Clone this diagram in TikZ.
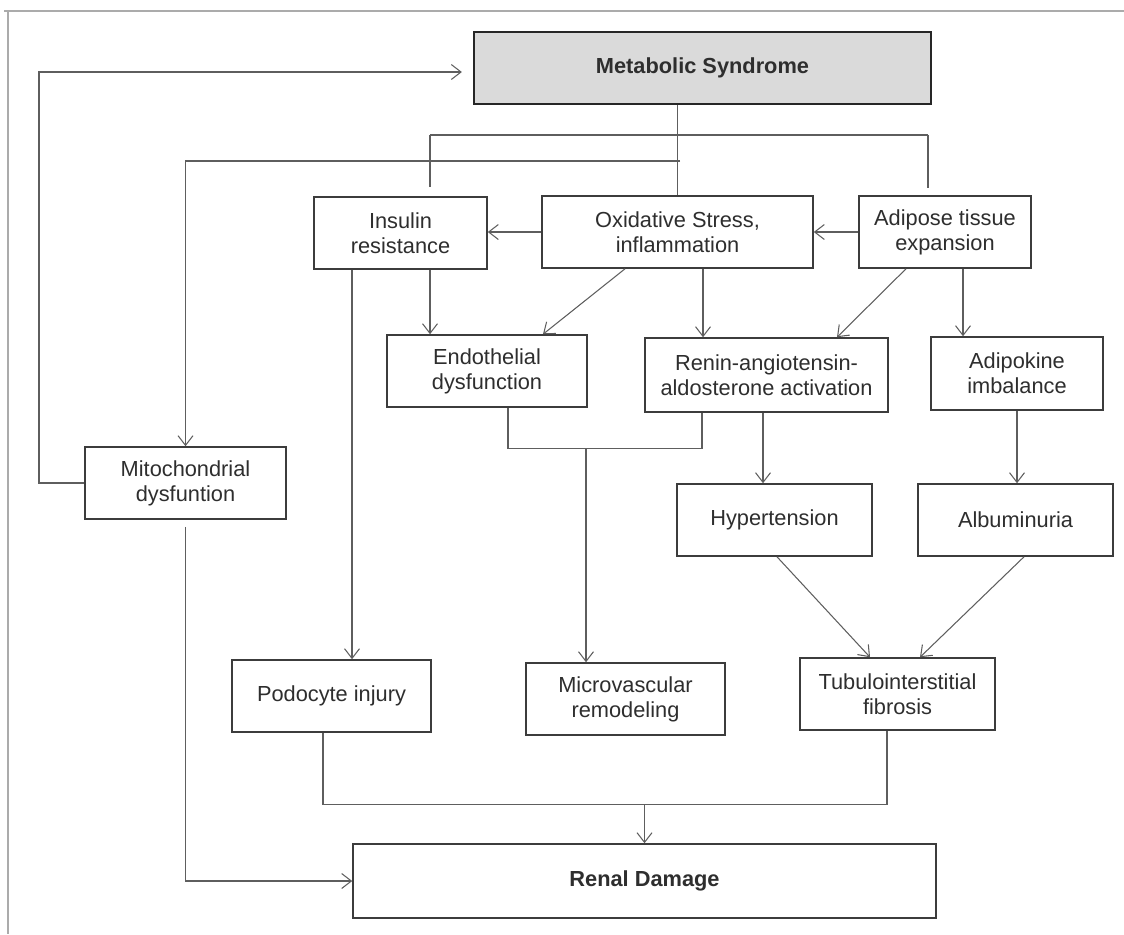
\documentclass[tikz,border=0pt]{standalone}
\usepackage{fontspec}
\setmainfont{Liberation Sans}
\usetikzlibrary{arrows.meta,calc}
\definecolor{boxline}{HTML}{3C3C3C}
\definecolor{linkline}{HTML}{5E5E5E}
\definecolor{frameline}{HTML}{ABABAB}
\definecolor{msfill}{HTML}{DADADA}
\definecolor{txt}{HTML}{2E2E2E}

\begin{document}
\begin{tikzpicture}[x=0.02cm,y=-0.02cm,
	    box/.style={draw=boxline,line width=0.9pt,fill=white,text=txt,align=center,inner sep=0pt,
	        font=\fontsize{12.4}{14.2}\selectfont},
	    bold/.style={font=\fontsize{12.4}{14.2}\selectfont\bfseries},
	    sz/.style 2 args={minimum width=#1*0.02cm,minimum height=#2*0.02cm},
	    link/.style={draw=linkline,line width=0.6pt},
	    arr/.style={link,-{Straight Barb[length=5.5pt,width=8.5pt,line width=0.6pt]}}]
	    \useasboundingbox (0,0) rectangle (1124,934);
	    \draw [frameline,line width=1.1pt] (4,11) -- (1124,11);
	    \draw [frameline,line width=1.1pt] (8,11) -- (8,934);
	    % boxes
	    \node [box,sz={457}{72},bold,fill=msfill,draw=black!85,line width=1.3pt] (ms) at (702.5,68) {Metabolic Syndrome};
	    \node [box,sz={173}{72}] (ins) at (400.5,233) {Insulin\\resistance};
	    \node [box,sz={271}{72}] (ox) at (677.5,232) {Oxidative Stress,\\inflammation};
	    \node [box,sz={172}{72}] (adi) at (945,232) {Adipose tissue\\expansion};
	    \node [box,sz={200}{72}] (endo) at (487,371) {Endothelial\\dysfunction};
	    \node [box,sz={243}{74}] (raas) at (766.5,375) {Renin-angiotensin-\\aldosterone activation};
	    \node [box,sz={172}{73}] (adk) at (1017,373.5) {Adipokine\\imbalance};
	    \node [box,sz={201}{72}] (mito) at (185.5,483) {Mitochondrial\\dysfuntion};
	    \node [box,sz={195}{72}] (hyp) at (774.5,520) {Hypertension};
	    \node [box,sz={195}{72}] (alb) at (1015.5,520) {Albuminuria};
	    \node [box,sz={199}{72}] (pod) at (331.5,696) {Podocyte injury};
	    \node [box,sz={199}{72}] (micro) at (625.5,699) {Microvascular\\remodeling};
	    \node [box,sz={195}{72}] (tub) at (897.5,694) {Tubulointerstitial\\fibrosis};
	    \node [box,sz={583}{74},bold] (renal) at (644.5,881) {Renal Damage};
	    % helper points
	    \coordinate (fbA) at (39,483);
	    \coordinate (fbB) at (39,72);
	    \coordinate (brL) at (430,135);
	    \coordinate (brR) at (928,135);
	    \coordinate (mitoT) at (680,161);
	    \coordinate (mitoB) at ($(mito.south)+(0,7)$);
	    \coordinate (insL) at ($(ins.south)+(-48.5,0)$);
	    \coordinate (insR) at ($(ins.south)+(29.5,0)$);
	    \coordinate (oxR) at ($(ox.south)+(25.5,0)$);
	    \coordinate (adiR) at ($(adi.south)+(18,0)$);
	    \coordinate (raasL) at ($(raas.south)+(-3.5,0)$);
	    \coordinate (endoB) at ($(endo.south)+(21,0)$);
	    \coordinate (raasB) at ($(raas.south)+(-64.5,0)$);
	    \coordinate (midB) at ($(endoB)+(0,41)$);
	    \coordinate (microT) at ($(micro.north)+(-39.5,0)$);
	    \coordinate (podB) at ($(pod.south)+(-8.5,0)$);
	    \coordinate (tubB) at ($(tub.south)+(-10.5,0)$);
	    \coordinate (botB) at ($(podB)+(0,72)$);
	    % feedback and top branches
	    \draw [arr,shorten >=0.22cm] (mito.west) -- (fbA) -- (fbB) -- (fbB -| ms.west);
	    \draw [link] (ox.north |- ms.south) -- (ox.north);
	    \draw [link] (brL) -- (brR);
	    \draw [link] (brL) -- ++(0,52);
	    \draw [link] (brR) -- ++(0,53);
	    \draw [arr] (mitoT) -| (mito.north);
	    % second row
	    \draw [arr] (ox.west) -- (ox.west -| ins.east);
	    \draw [arr] (adi.west) -- (adi.west -| ox.east);
	    \draw [arr] (insR) -- (insR |- endo.north);
	    \draw [arr] (insL) -- (insL |- pod.north);
	    \draw [arr] ($(ox.south)+(-52.5,0)$) -- ($(endo.north)+(56,0)$);
	    \draw [arr] (oxR) -- (oxR |- raas.north);
	    \draw [arr] ($(adi.south)+(-39,0)$) -- ($(raas.north)+(70.5,0)$);
	    \draw [arr] (adiR) -- (adiR |- adk.north);
	    % third row
	    \draw [link] (endoB) -- (midB) -| (raasB);
	    \draw [arr] (microT |- midB) -- (microT);
	    \draw [arr] (raasL) -- (raasL |- hyp.north);
	    \draw [arr] (adk.south) -- (adk.south |- alb.north);
	    \draw [arr] ($(hyp.south)+(2.5,0)$) -- ($(tub.north)+(-27.5,0)$);
	    \draw [arr] ($(alb.south)+(8.5,0)$) -- ($(tub.north)+(22.5,0)$);
	    % towards renal damage
	    \draw [link] (podB) -- (botB) -| (tubB);
	    \draw [arr] (renal.north |- botB) -- (renal.north);
	    \draw [arr] (mitoB) |- (renal.west);
\end{tikzpicture}
\end{document}
